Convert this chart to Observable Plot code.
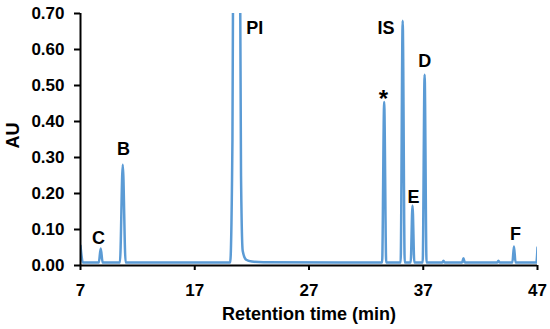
<!DOCTYPE html>
<html>
<head>
<meta charset="utf-8">
<script src="https://cdn.jsdelivr.net/npm/d3@7"></script>
<script src="https://cdn.jsdelivr.net/npm/@observablehq/plot@0.6"></script>
<style>
  html, body { margin: 0; padding: 0; background: #fff; }
  #chart svg { display: block; }
</style>
</head>
<body>
<div id="chart"></div>
<script>
// Chromatogram trace: retention time (min) and absorbance (AU)
const traceTime = [
  7.0, 7.08, 7.2,
  8.6, 8.77, 8.94,
  10.45, 10.7, 10.95,
  20.1, 20.3, 20.4, 20.66, 20.92, 21.05, 21.2, 21.5, 22.0, 23.0,
  33.4, 33.58, 33.76,
  35.02, 35.2, 35.38,
  35.9, 36.06, 36.22,
  36.95, 37.12, 37.29,
  38.65, 38.77, 38.89,
  40.4, 40.52, 40.64,
  43.46, 43.58, 43.7,
  44.8, 44.94, 45.08,
  46.9, 47.0
];
const traceAU = [
  0.055, 0.03, 0.008,
  0.008, 0.047, 0.008,
  0.008, 0.28, 0.008,
  0.008, 0.35, 1.2, 2.2, 1.2, 0.25, 0.04, 0.016, 0.011, 0.009,
  0.008, 0.454, 0.008,
  0.008, 0.68, 0.008,
  0.008, 0.167, 0.008,
  0.008, 0.53, 0.008,
  0.008, 0.013, 0.008,
  0.008, 0.02, 0.008,
  0.008, 0.013, 0.008,
  0.008, 0.053, 0.008,
  0.008, 0.05
];

// Peak labels
const labelNames = ["C", "B", "PI", "*", "IS", "E", "D", "F"];
const labelTime  = [8.58, 10.77, 22.25, 33.51, 33.73, 36.14, 37.14, 45.08];
const labelAU    = [0.076, 0.324, 0.658, 0.462, 0.658, 0.19, 0.567, 0.0875];

// Axis ticks
const xTicks = [7, 17, 27, 37, 47];
const yTicks = [0, 0.1, 0.2, 0.3, 0.4, 0.5, 0.6, 0.7];

const trace = traceTime.map((t, i) => ({t, au: traceAU[i]}));
const labels = labelNames.map((name, i) => ({name, t: labelTime[i], au: labelAU[i]}));

const font = "'Liberation Sans', Arial, sans-serif";

const chart = Plot.plot({
  width: 550,
  height: 329,
  marginLeft: 80,
  marginRight: 13,
  marginTop: 13,
  marginBottom: 64,
  style: {fontFamily: font, fontSize: "17px", fontWeight: "bold", color: "#000", background: "#fff"},
  x: {domain: [7, 47]},
  y: {domain: [0, 0.7]},
  marks: [
    Plot.line(trace, {x: "t", y: "au", stroke: "#5b9bd5", strokeWidth: 2.5, curve: "monotone-x", clip: true}),
    Plot.axisY({ticks: yTicks, tickFormat: d3.format(".2f"), tickSize: 6, tickPadding: 10, strokeWidth: 2, label: null, fontSize: 17}),
    Plot.axisX({ticks: xTicks, tickFormat: d => d, tickSize: 5, tickPadding: 13, strokeWidth: 2, label: null, fontSize: 17}),
    Plot.ruleY([0], {stroke: "#000", strokeWidth: 2}),
    Plot.ruleX([7], {stroke: "#000", strokeWidth: 2}),
    Plot.text(labels, {x: "t", y: "au", text: "name", fontSize: d => d.name === "*" ? 24 : 18, fontWeight: "bold", fill: "#000", textAnchor: "middle", lineAnchor: "middle"}),
    Plot.text(["Retention time (min)"], {frameAnchor: "bottom", dy: 49, fontSize: 18, fontWeight: "bold", fill: "#000", lineAnchor: "middle"}),
    Plot.text(["AU"], {frameAnchor: "left", dx: -67, dy: 9, rotate: -90, fontSize: 18, fontWeight: "bold", fill: "#000", lineAnchor: "middle"})
  ]
});
document.getElementById("chart").appendChild(chart);
</script>
</body>
</html>
